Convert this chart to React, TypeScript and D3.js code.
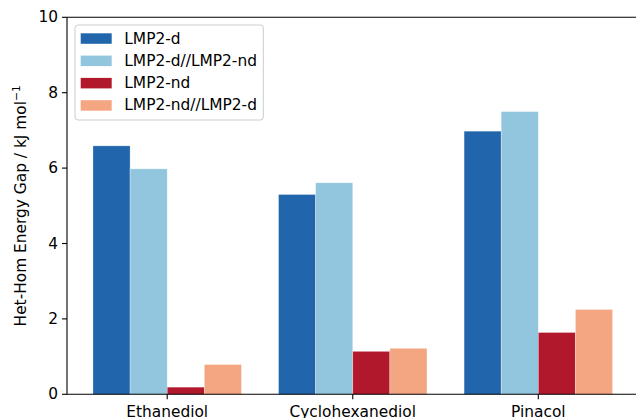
import React from "react";
import * as d3 from "d3";

const categories = ["Ethanediol", "Cyclohexanediol", "Pinacol"];
const seriesNames = ["LMP2-d", "LMP2-d//LMP2-nd", "LMP2-nd", "LMP2-nd//LMP2-d"];
const lmp2d = [6.59, 5.30, 6.98];
const lmp2dnd = [5.98, 5.61, 7.50];
const lmp2nd = [0.19, 1.14, 1.64];
const lmp2ndd = [0.79, 1.22, 2.25];
const seriesColors = ["#2166ac", "#92c5de", "#b2182b", "#f4a582"];
const yTicks = [0, 2, 4, 6, 8, 10];

const W = 636;
const H = 418;
const FONT = "'DejaVu Sans', sans-serif";
const FS = 15.4;

export default function App() {
  const series = [lmp2d, lmp2dnd, lmp2nd, lmp2ndd];
  const x = d3.scaleLinear().domain([-0.54, 2.54]).range([67, 638.5]);
  const y = d3.scaleLinear().domain([0, 10]).range([394.3, 17.3]);
  const barW = 0.2;

  return (
    <svg
      width={W}
      height={H}
      style={{ position: "fixed", left: 0, top: 0, background: "#fff" }}
      fontFamily={FONT}
    >
      <rect x={0} y={0} width={W} height={H} fill="#fff" />
      {series.map((vals, si) =>
        vals.map((v, ci) => {
          const x0 = x(ci + (si - 1.5) * barW - barW / 2);
          const x1 = x(ci + (si - 1.5) * barW + barW / 2);
          return (
            <rect
              key={`${si}-${ci}`}
              x={x0}
              y={y(v)}
              width={x1 - x0}
              height={y(0) - y(v)}
              fill={seriesColors[si]}
              stroke="#ffffff"
              strokeOpacity={0.5}
              strokeWidth={0.6}
            />
          );
        })
      )}
      {/* spines */}
      <line x1={x(-0.54)} x2={x(-0.54)} y1={y(0)} y2={y(10)} stroke="#000" strokeWidth={1.1} />
      <line x1={x(-0.54)} x2={x(2.54)} y1={y(0)} y2={y(0)} stroke="#000" strokeWidth={1.1} />
      <line x1={x(-0.54)} x2={x(2.54)} y1={y(10)} y2={y(10)} stroke="#000" strokeWidth={1.1} />
      <line x1={x(2.54)} x2={x(2.54)} y1={y(0)} y2={y(10)} stroke="#000" strokeWidth={1.1} />
      {/* y ticks */}
      {yTicks.map((t) => (
        <g key={t}>
          <line x1={x(-0.54) - 5} x2={x(-0.54)} y1={y(t)} y2={y(t)} stroke="#000" strokeWidth={1.1} />
          <text x={x(-0.54) - 9} y={y(t)} textAnchor="end" dominantBaseline="central" fontSize={FS} fill="#000">
            {t}
          </text>
        </g>
      ))}
      {/* x ticks */}
      {categories.map((c, i) => (
        <g key={c}>
          <line x1={x(i)} x2={x(i)} y1={y(0)} y2={y(0) + 5} stroke="#000" strokeWidth={1.1} />
          <text x={x(i)} y={y(0) + 22.5} textAnchor="middle" fontSize={FS} fill="#000">
            {c}
          </text>
        </g>
      ))}
      {/* y label */}
      <text
        transform={`translate(${26},${(y(0) + y(10)) / 2}) rotate(-90)`}
        textAnchor="middle"
        fontSize={FS}
        fill="#000"
      >
        Het-Hom Energy Gap / kJ mol
        <tspan dy={-6} fontSize={FS * 0.7}>−1</tspan>
      </text>
      {/* legend */}
      <rect x={75} y={25} width={188.3} height={95} rx={3} ry={3} fill="#fff" fillOpacity={0.8} stroke="#cccccc" strokeWidth={1} />
      {seriesNames.map((n, i) => (
        <g key={n}>
          <rect x={80.7} y={33.3 + i * 22.3} width={31} height={10.5} fill={seriesColors[i]} />
          <text x={124.3} y={38.5 + i * 22.3} dominantBaseline="central" fontSize={FS} fill="#000">
            {n}
          </text>
        </g>
      ))}
    </svg>
  );
}
